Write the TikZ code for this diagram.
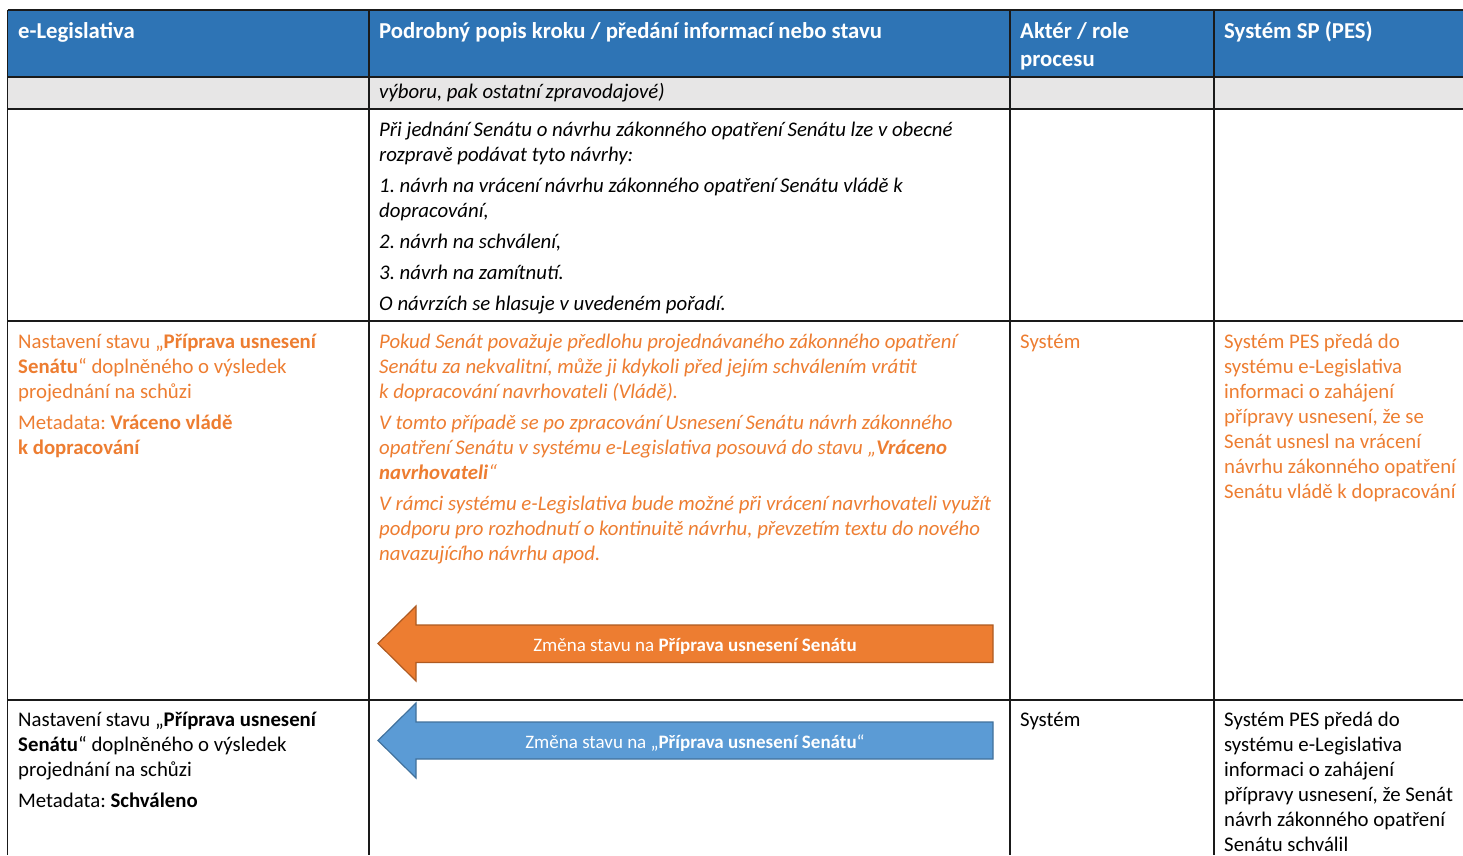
\documentclass[tikz,border=0pt]{standalone}
\usepackage{fontspec}
\setmainfont{Carlito}
\frenchspacing

\definecolor{headblue}{HTML}{2E74B5}
\definecolor{rowgray}{HTML}{E7E6E6}
\definecolor{accorange}{HTML}{ED7D31}
\definecolor{accorangedk}{HTML}{AE5A21}
\definecolor{arrowblue}{HTML}{5B9BD5}
\definecolor{arrowbluedk}{HTML}{41719C}
\definecolor{gridline}{HTML}{1A1A1A}

% one table cell, first line on the node's baseline
\newcommand{\celltext}[1]{\parbox[t]{620pt}{\raggedright\frenchspacing
    \fontsize{20.8}{25}\selectfont\setlength{\parskip}{6pt}#1}}

\begin{document}
\begin{tikzpicture}[x=1pt,y=-1pt,
    grid/.style={draw=gridline,line width=1.3pt},
    cell/.style={anchor=base west,inner sep=0pt},
    headtext/.style={cell,text=white,font=\fontsize{22.75}{28}\selectfont\bfseries},
    arrowtext/.style={anchor=center,inner sep=0pt,text=white,
      font=\fontsize{19}{22}\selectfont}]
    \useasboundingbox (0,0) rectangle (1463,855);

    \fill [headblue] (7.5,10) rectangle (1463,77);
    \fill [rowgray] (7.5,77) rectangle (1463,109);

    \foreach \y in {10,77,109,321,700}
      \draw [grid] (7.5,\y) -- (1463,\y);
    \foreach \x in {7.5,369,1010,1214}
      \draw [grid] (\x,10) -- (\x,855);

    % header
    \node [headtext] (h1) at (18,38.5) {e-Legislativa};
    \node [headtext] (h2) at (379,38.5)
    {Podrobný popis kroku / předání informací nebo stavu};
    \node [headtext] (h3) at (1020,38.5)
    {\parbox[t]{180pt}{Aktér / role\\procesu}};
    \node [headtext] (h4) at (1224,38.5) {Systém SP (PES)};

    \node [cell] (g2) at (379,98)
    {\celltext{\itshape výboru, pak ostatní zpravodajové)}};

    \node [cell] (r1b) at (379,136)
    {\celltext{\itshape Při jednání Senátu o návrhu zákonného opatření Senátu lze v obecné\\
        rozpravě podávat tyto návrhy:\par
        1. návrh na vrácení návrhu zákonného opatření Senátu vládě k\\
        dopracování,\par
        2. návrh na schválení,\par
        3. návrh na zamítnutí.\par
        O návrzích se hlasuje v uvedeném pořadí.}};

    % returned to the government
    \node [cell,text=accorange] (r2a) at (18,348)
    {\celltext{Nastavení stavu „\textbf{Příprava usnesení}\\
        \textbf{Senátu}“ doplněného o výsledek\\
        projednání na schůzi\par
        Metadata: \textbf{Vráceno vládě}\\
        \textbf{k dopracování}}};

    \node [cell,text=accorange] (r2b) at (379,348)
    {\celltext{\itshape Pokud Senát považuje předlohu projednávaného zákonného opatření\\
        Senátu za nekvalitní, může ji kdykoli před jejím schválením vrátit\\
        k dopracování navrhovateli (Vládě).\par
        V tomto případě se po zpracování Usnesení Senátu návrh zákonného\\
        opatření Senátu v systému e-Legislativa posouvá do stavu „\textbf{Vráceno}\\
        \textbf{navrhovateli}“\par
        V rámci systému e-Legislativa bude možné při vrácení navrhovateli využít\\
        podporu pro rozhodnutí o kontinuitě návrhu, převzetím textu do nového\\
        navazujícího návrhu apod.}};

    \node [cell,text=accorange] (r2c) at (1020,348) {\celltext{Systém}};

    \node [cell,text=accorange] (r2d) at (1224,348)
    {\celltext{Systém PES předá do\\
        systému e-Legislativa\\
        informaci o zahájení\\
        přípravy usnesení, že se\\
        Senát usnesl na vrácení\\
        návrhu zákonného opatření\\
        Senátu vládě k dopracování}};

    \coordinate (o1) at (378,643.5);
    \draw [fill=accorange,draw=accorangedk,line width=1.2pt,line join=miter]
    (o1) -- (416,606) -- (416,625) -- (993,625) -- (993,662.5)
    -- (416,662.5) -- (416,681) -- cycle;
    \node [arrowtext] (o2) at (695,646)
    {Změna stavu na \textbf{Příprava usnesení Senátu}};

    % approved
    \node [cell] (r3a) at (18,726)
    {\celltext{Nastavení stavu „\textbf{Příprava usnesení}\\
        \textbf{Senátu}“ doplněného o výsledek\\
        projednání na schůzi\par
        Metadata: \textbf{Schváleno}}};

    \coordinate (b1) at (378,740.5);
    \draw [fill=arrowblue,draw=arrowbluedk,line width=1.2pt,line join=miter]
    (b1) -- (416,703) -- (416,722) -- (993,722) -- (993,759)
    -- (416,759) -- (416,778) -- cycle;
    \node [arrowtext] (b2) at (695,743)
    {Změna stavu na „\textbf{Příprava usnesení Senátu}“};

    \node [cell] (r3c) at (1020,726) {\celltext{Systém}};

    \node [cell] (r3d) at (1224,726)
    {\celltext{Systém PES předá do\\
        systému e-Legislativa\\
        informaci o zahájení\\
        přípravy usnesení, že Senát\\
        návrh zákonného opatření\\
        Senátu schválil}};
  \end{tikzpicture}
\end{document}
